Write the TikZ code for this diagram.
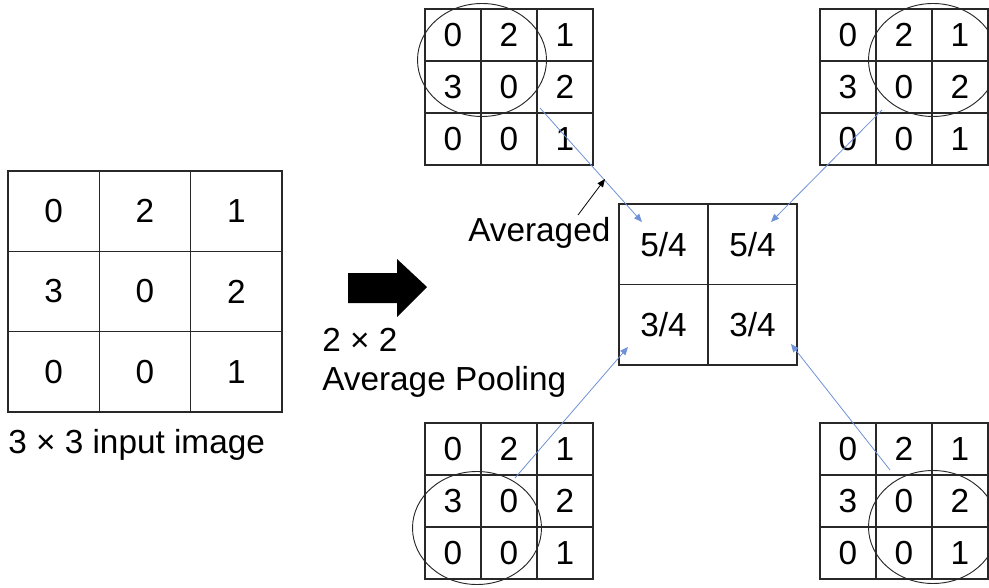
\documentclass[tikz,border=0pt]{standalone}
\usepackage{fontspec}
\setmainfont{Liberation Sans}
\usepackage{xcolor}
\usetikzlibrary{arrows.meta}
\definecolor{linkblue}{RGB}{110, 145, 215}
\definecolor{gridgray}{RGB}{40, 40, 40}

\begin{document}
\begin{tikzpicture}[x=0.75pt, y=-0.75pt,
  num/.style={font=\fontsize{25}{30}\selectfont, inner sep=0pt},
  lbl/.style={font=\fontsize{25}{30}\selectfont, anchor=base west, inner sep=0pt},
  gridline/.style={line width=1.1pt, color=gridgray},
  window/.style={line width=0.7pt, color=gridgray},
  link/.style={linkblue, line width=0.6pt, -{Triangle[length=6pt, width=5pt]}}]

  \useasboundingbox (0,0) rectangle (989,588);

  % ── Input image (3 x 3) ──────────────────────────────────────────────
  \def\bx{8}      % left edge
  \def\by{171}    % top edge
  \def\bw{91.33}  % cell width
  \def\bh{80.33}  % cell height
  \draw[gridline] (\bx,\by) rectangle ++({3*\bw},{3*\bh});
  \foreach \i in {1,2} {
    \draw[gridline] ({\bx+\i*\bw},\by) -- ++(0,{3*\bh});
    \draw[gridline] (\bx,{\by+\i*\bh}) -- ++({3*\bw},0);
  }
  \foreach \v [count=\k from 0] in {0,2,1,3,0,2,0,0,1} {
    \pgfmathsetmacro\c{mod(\k,3)}
    \pgfmathsetmacro\r{int(\k/3)}
    \node[num] (in-\k) at ({\bx+(\c+0.5)*\bw},{\by+(\r+0.5)*\bh}) {\v};
  }
  \node[lbl] (inlabel) at (8,453) {3 × 3 input image};

  % ── Block arrow + operation label ────────────────────────────────────
  \fill (348,273) -- (397,273) -- (397,259) -- (427,287)
    -- (397,317) -- (397,303) -- (348,303) -- cycle;
  \node[lbl] (op1) at (322,351) {2 × 2};
  \node[lbl] (op2) at (322,390) {Average Pooling};

  % ── Four pooling windows (cell 56 x 52) ──────────────────────────────
  \foreach \gx/\gy/\ex/\ey/\gn in {425/9/482/60/tl, 820/9/933/60/tr,
                                   425/423/477/528/bl, 820/423/933/527/br} {
    \draw[gridline] (\gx,\gy) rectangle ++(168,156);
    \foreach \i in {1,2} {
      \draw[gridline] ({\gx+\i*56},\gy) -- ++(0,156);
      \draw[gridline] (\gx,{\gy+\i*52}) -- ++(168,0);
    }
    \foreach \v [count=\k from 0] in {0,2,1,3,0,2,0,0,1} {
      \pgfmathsetmacro\c{mod(\k,3)}
      \pgfmathsetmacro\r{int(\k/3)}
      \node[num] (\gn-\k) at ({\gx+(\c+0.5)*56},{\gy+(\r+0.5)*52}) {\v};
    }
    \draw[window] (\ex,\ey) ellipse [x radius=64.5, y radius=56.5];
  }

  % ── Output (2 x 2) ───────────────────────────────────────────────────
  \def\ox{619}
  \def\oy{204}
  \draw[gridline] (\ox,\oy) rectangle ++(178,161);
  \draw[gridline] ({\ox+89},\oy) -- ++(0,161);
  \draw[gridline] (\ox,{\oy+80.5}) -- ++(178,0);
  \node[num] (out-1) at ({\ox+44.5},{\oy+40.5}) {5/4};
  \node[num] (out-2) at ({\ox+133.5},{\oy+40.5}) {5/4};
  \node[num] (out-3) at ({\ox+44.5},{\oy+121}) {3/4};
  \node[num] (out-4) at ({\ox+133.5},{\oy+121}) {3/4};

  % ── Links from windows to output cells ───────────────────────────────
  \coordinate (tl-s) at (540,108);
  \coordinate (tr-s) at (882,110);
  \coordinate (bl-s) at (515,478);
  \coordinate (br-s) at (890,470);
  \coordinate (tl-e) at (642,222);
  \coordinate (tr-e) at (771,222);
  \coordinate (bl-e) at (628,347);
  \coordinate (br-e) at (791,344);
  \foreach \gn in {tl,tr,bl,br} {
    \draw[link] (\gn-s) -- (\gn-e);
  }

  % ── "Averaged" note ──────────────────────────────────────────────────
  \node[lbl] (avg) at (468,242) {Averaged};
  \coordinate (avg-s) at (578,215);
  \coordinate (avg-e) at (605,179);
  \draw[line width=0.6pt, -{Triangle[length=6pt, width=5pt]}] (avg-s) -- (avg-e);

\end{tikzpicture}
\end{document}
